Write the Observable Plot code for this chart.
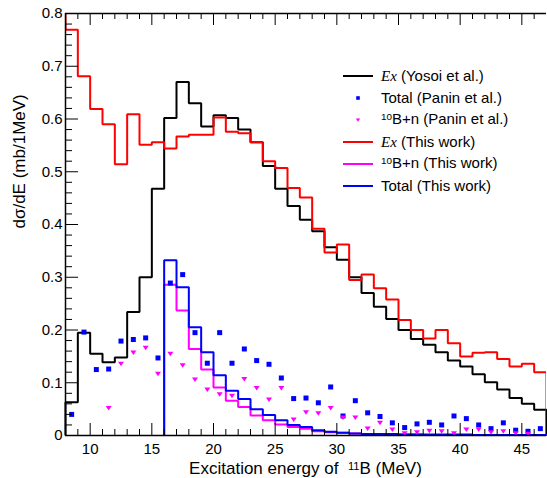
<!DOCTYPE html>
<html>
<head>
<meta charset="utf-8">
<script src="https://cdn.jsdelivr.net/npm/d3@7"></script>
<script src="https://cdn.jsdelivr.net/npm/@observablehq/plot@0.6"></script>
<style>
  body { margin: 0; background: #fff; }
  #chart { position: relative; width: 547px; height: 478px; font-family: "Liberation Sans", Arial, sans-serif; }
  #chart svg { position: absolute; left: 0; top: 0; }
  .xtitle { position: absolute; left: 65px; width: 481px; top: 460px; text-align: center; font-size: 17px; line-height: 17px; white-space: pre; }
  .legend { position: absolute; left: 343px; top: 64.7px; font-size: 15px; }
  .legend .row { display: flex; align-items: center; height: 22.1px; line-height: 22px; white-space: pre; }
  .legend svg { position: static !important; margin-right: 8px; }
  .sup { position: relative; top: -4px; font-size: 0.66em; }
  .ex { font-family: "Liberation Serif", "Times New Roman", serif; font-style: italic; }
</style>
</head>
<body>
<div id="chart"></div>
<script>
// Excitation-energy spectra of 11B, 1 MeV bins from 8 to 47 MeV
const binStart = 8;
const binEnd = 47;

// Ex spectrum, Yosoi et al. (bins 8–9 ... 46–47)
const yosoiEx = [0.063, 0.195, 0.155, 0.139, 0.148, 0.234, 0.300, 0.468, 0.602, 0.670,
  0.630, 0.586, 0.607, 0.602, 0.580, 0.556, 0.511, 0.468, 0.435, 0.409,
  0.387, 0.357, 0.333, 0.300, 0.270, 0.244, 0.221, 0.200, 0.183, 0.172,
  0.158, 0.142, 0.131, 0.116, 0.101, 0.087, 0.071, 0.060, 0.049];

// Ex spectrum, this work (bins 8–9 ... 46–47); the 7–8 bin lies above the axis range
const thisWorkExBelow8 = 0.85;
const thisWorkEx = [0.769, 0.681, 0.619, 0.590, 0.514, 0.609, 0.551, 0.556, 0.544, 0.567,
  0.570, 0.570, 0.603, 0.576, 0.573, 0.556, 0.520, 0.507, 0.469, 0.451,
  0.392, 0.347, 0.362, 0.295, 0.305, 0.279, 0.258, 0.219, 0.200, 0.184,
  0.200, 0.175, 0.150, 0.157, 0.158, 0.145, 0.131, 0.136, 0.120];

// Decay channels, this work (bins 16–17 ... 46–47)
const decayStart = 16;
const thisWork10Bn = [0.286, 0.237, 0.164, 0.125, 0.091, 0.066, 0.054, 0.038, 0.029, 0.021,
  0.016, 0.013, 0.008, 0.006, 0.005, 0.004, 0.003, 0.003, 0.002, 0.002,
  0.002, 0.001, 0.001, 0.001, 0.001, 0.001, 0.001, 0.001, 0.001, 0.001, 0.001];
const thisWorkTotal = [0.332, 0.281, 0.205, 0.158, 0.114, 0.085, 0.069, 0.050, 0.039, 0.029,
  0.020, 0.016, 0.010, 0.007, 0.005, 0.004, 0.003, 0.003, 0.003, 0.002,
  0.002, 0.002, 0.002, 0.002, 0.002, 0.001, 0.001, 0.001, 0.001, 0.001, 0.001];

// Panin et al., values at bin centres
const paninTotalE = d3.range(8.5, 47, 1);
const paninTotal = [0.040, 0.196, 0.125, 0.126, 0.179, 0.182, 0.185, 0.147, 0.289, 0.305,
  0.195, 0.137, 0.195, 0.137, 0.164, 0.142, 0.135, 0.109, 0.070, 0.071,
  0.062, 0.092, 0.037, 0.066, 0.043, 0.036, 0.024, 0.015, 0.022, 0.025,
  0.020, 0.037, 0.032, 0.020, 0.013, 0.024, 0.010, 0.008, 0.013];
const panin10BnE = d3.range(11.5, 46, 1);
const panin10Bn = [0.052, 0.136, 0.157, 0.166, 0.117, 0.155, 0.133, 0.106, 0.087, 0.078,
  0.075, 0.107, 0.090, 0.068, 0.090, 0.030, 0.044, 0.042, 0.052, 0.034,
  0.034, 0.013, 0.024, 0.011, 0.004, 0.006, 0.009, 0.008, 0.004, 0.011,
  0.011, 0.006, 0.008, 0.004, 0.003];

// Axis ticks
const xMajor = d3.range(10, 46, 5);
const xMinor = d3.range(9, 47).filter(d => d % 5 !== 0);
const yMajor = d3.range(0, 9).map(i => i / 10);
const yMinor = d3.range(1, 40).filter(i => i % 5 !== 0).map(i => i / 50);
const yTickFormat = d => d === 0 ? "0" : d.toFixed(1);

// Layout
const W = 547, H = 478;
const mL = 65, mR = 1, mT = 13, mB = 43;
const yMax = 0.8;
// data units per pixel, for fixed-length tick marks drawn inside the frame
const pxX = (binEnd - binStart) / (W - mL - mR);
const pxY = yMax / (H - mT - mB);

// Histogram outline: rises from zero, steps across each bin, drops back at the end
function outline(lo, values) {
  const pts = [{x: lo, y: 0}];
  values.forEach((v, i) => pts.push({x: lo + i, y: v}));
  const hi = lo + values.length;
  pts.push({x: hi, y: values[values.length - 1]}, {x: hi, y: 0});
  return pts;
}

const histStyle = {x: "x", y: "y", curve: "step-after", strokeWidth: 2, strokeLinejoin: "miter", strokeLinecap: "butt"};

const squareSymbol = {draw(ctx, size) { const r = Math.sqrt(size / Math.PI); ctx.rect(-r, -r, 2 * r, 2 * r); }};
const triDownSymbol = {draw(ctx, size) { const r = Math.sqrt(size / Math.PI); ctx.moveTo(-r, -0.7 * r); ctx.lineTo(r, -0.7 * r); ctx.lineTo(0, 0.8 * r); ctx.closePath(); }};

const paninTotalPts = paninTotalE.map((e, i) => ({x: e, y: paninTotal[i]}));
const panin10BnPts = panin10BnE.map((e, i) => ({x: e, y: panin10Bn[i]}));

const tick = {stroke: "#000", strokeWidth: 1};

const plot = Plot.plot({
  width: W, height: H,
  marginLeft: mL, marginRight: mR, marginTop: mT, marginBottom: mB,
  style: {fontFamily: "'Liberation Sans', Arial, sans-serif", fontSize: "15px", background: "transparent", color: "#000"},
  x: {domain: [binStart, binEnd]},
  y: {domain: [0, yMax]},
  marks: [
    Plot.axisX({ticks: xMajor, tickSize: 0, tickPadding: 8, tickFormat: d => String(d), label: null}),
    Plot.axisY({ticks: yMajor, tickSize: 0, tickPadding: 3, tickFormat: yTickFormat, label: null}),
    Plot.text(["dσ/dE (mb/1MeV)"], {frameAnchor: "left", rotate: -90, dx: -46, dy: 4, fontSize: 17}),

    Plot.line(outline(binStart, yosoiEx), {...histStyle, stroke: "#000"}),
    Plot.line(outline(binStart - 1, [thisWorkExBelow8, ...thisWorkEx]), {...histStyle, stroke: "#ff0000", clip: true}),
    Plot.line(outline(decayStart, thisWork10Bn), {...histStyle, stroke: "#ff00ff"}),
    Plot.line(outline(decayStart, thisWorkTotal), {...histStyle, stroke: "#0000ff"}),

    Plot.dot(paninTotalPts, {x: "x", y: "y", r: 2.5, symbol: squareSymbol, fill: "#0000ff", stroke: null}),
    Plot.dot(panin10BnPts, {x: "x", y: "y", r: 3, symbol: triDownSymbol, fill: "#ff00ff", stroke: null}),

    // frame (top, bottom, left)
    Plot.ruleY([0, yMax], {stroke: "#000", strokeWidth: 1.5}),
    Plot.ruleX([binStart], {stroke: "#000", strokeWidth: 1.5}),

    // inward ticks on bottom and top
    Plot.ruleX(xMajor, {x: d => d, y1: 0, y2: 12 * pxY, ...tick}),
    Plot.ruleX(xMinor, {x: d => d, y1: 0, y2: 6 * pxY, ...tick}),
    Plot.ruleX(xMajor, {x: d => d, y1: yMax, y2: yMax - 12 * pxY, ...tick}),
    Plot.ruleX(xMinor, {x: d => d, y1: yMax, y2: yMax - 6 * pxY, ...tick}),
    // inward ticks on the left
    Plot.ruleY(yMajor, {y: d => d, x1: binStart, x2: binStart + 13 * pxX, ...tick}),
    Plot.ruleY(yMinor, {y: d => d, x1: binStart, x2: binStart + 7 * pxX, ...tick})
  ]
});

const chart = document.getElementById("chart");
chart.appendChild(plot);

const xt = document.createElement("div");
xt.className = "xtitle";
xt.innerHTML = 'Excitation energy of  <span class="sup">11</span>B (MeV)';
chart.appendChild(xt);

// Legend
const legendItems = [
  {kind: "line", color: "#000", html: '<span class="ex">Ex</span> (Yosoi et al.)'},
  {kind: "square", color: "#0000ff", html: 'Total (Panin et al.)'},
  {kind: "tri", color: "#ff00ff", html: '<span class="sup">10</span>B+n (Panin et al.)'},
  {kind: "line", color: "#ff0000", html: '<span class="ex">Ex</span> (This work)'},
  {kind: "line", color: "#ff00ff", html: '<span class="sup">10</span>B+n (This work)'},
  {kind: "line", color: "#0000ff", html: 'Total (This work)'}
];
const legend = document.createElement("div");
legend.className = "legend";
for (const item of legendItems) {
  const row = document.createElement("div");
  row.className = "row";
  let swatch;
  if (item.kind === "line") swatch = `<line x1="0" x2="30" y1="11" y2="11" stroke="${item.color}" stroke-width="2"/>`;
  else if (item.kind === "square") swatch = `<rect x="13.2" y="9.2" width="3.6" height="3.6" fill="${item.color}"/>`;
  else swatch = `<path d="M12.8,9.5 L17.2,9.5 L15,12.8 Z" fill="${item.color}"/>`;
  row.innerHTML = `<svg width="30" height="22">${swatch}</svg><span>${item.html}</span>`;
  legend.appendChild(row);
}
chart.appendChild(legend);
</script>
</body>
</html>
